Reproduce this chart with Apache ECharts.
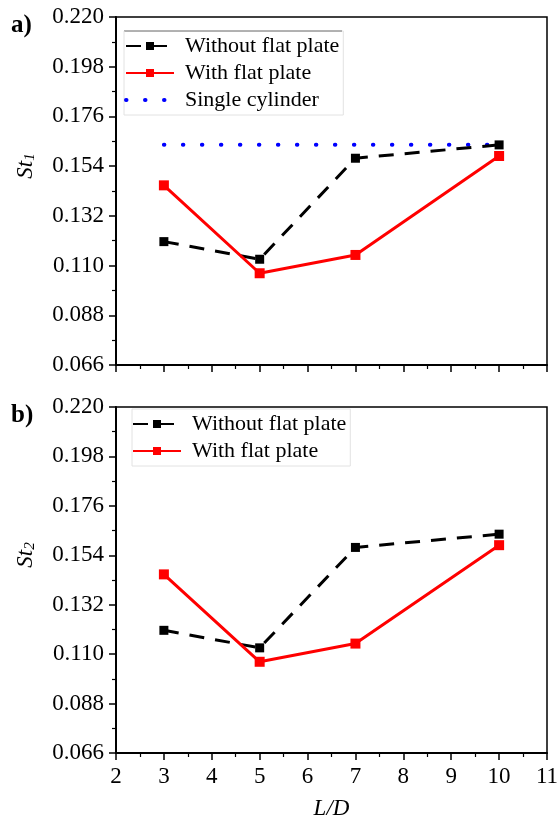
<!DOCTYPE html>
<html>
<head>
<meta charset="utf-8">
<script src="https://cdn.jsdelivr.net/npm/echarts@6/dist/echarts.min.js"></script>
<style>
  html, body { margin: 0; padding: 0; background: #fff; }
  #chart { width: 559px; height: 820px; }
</style>
</head>
<body>
<div id="chart"></div>
<script>
// L/D values
var ratios = [3, 5, 7, 10]
// St1 (panel a)
var st1Without = [0.1206, 0.1128, 0.1575, 0.1634]
var st1With = [0.1455, 0.1066, 0.1147, 0.1585]
var singleCylinder = 0.1635
var singleRange = [3, 10]
// St2 (panel b)
var st2Without = [0.1206, 0.1128, 0.1575, 0.1634]
var st2With = [0.1455, 0.1066, 0.1147, 0.1585]
// axis ticks
var yTicks = [0.066, 0.088, 0.110, 0.132, 0.154, 0.176, 0.198, 0.220]
var xRange = [2, 11]

var FONT = 'Liberation Serif'

function pairs (xs, ys) {
  return xs.map(function (x, i) { return [x, ys[i]] })
}

function makeX (idx, showLabels) {
  return {
    gridIndex: idx,
    type: 'value',
    min: xRange[0],
    max: xRange[1],
    interval: 1,
    name: showLabels ? 'L/D' : '',
    nameLocation: 'middle',
    nameGap: 44,
    nameTextStyle: { fontFamily: FONT, fontStyle: 'italic', fontSize: 23, color: '#000' },
    axisLine: { onZero: false, lineStyle: { color: '#000', width: 2 } },
    axisTick: { inside: false, length: 7, lineStyle: { color: '#000', width: 1.5 } },
    minorTick: { show: true, splitNumber: 2, length: 4, lineStyle: { color: '#000', width: 1.2 } },
    axisLabel: { show: showLabels, fontFamily: FONT, fontSize: 23, color: '#000', margin: 12 },
    splitLine: { show: false }
  }
}

function makeY (idx, sub) {
  return {
    gridIndex: idx,
    type: 'value',
    min: yTicks[0],
    max: yTicks[yTicks.length - 1],
    interval: 0.022,
    name: '{i|St}{s|' + sub + '}',
    nameLocation: 'middle',
    nameGap: 78,
    nameRotate: 90,
    nameTextStyle: {
      padding: [0, 0, 0, 50],
      rich: {
        i: { fontFamily: FONT, fontStyle: 'italic', fontSize: 23, color: '#000' },
        s: { fontFamily: FONT, fontStyle: 'italic', fontSize: 15, color: '#000', verticalAlign: 'bottom', padding: [10, 0, 0, 0] }
      }
    },
    axisLine: { lineStyle: { color: '#000', width: 2 } },
    axisTick: { inside: false, length: 7, lineStyle: { color: '#000', width: 1.5 } },
    minorTick: { show: true, splitNumber: 2, length: 4, lineStyle: { color: '#000', width: 1.2 } },
    axisLabel: {
      fontFamily: FONT, fontSize: 23, color: '#000', margin: 12,
      formatter: function (v) { return v.toFixed(3) }
    },
    splitLine: { show: false }
  }
}

var blackStyle = {
  type: 'line',
  symbol: 'rect',
  symbolSize: 9,
  itemStyle: { color: '#000' },
  lineStyle: { color: '#000', width: 3, type: [15, 11] }
}
var redStyle = {
  type: 'line',
  symbol: 'rect',
  symbolSize: 10,
  itemStyle: { color: '#ff0000' },
  lineStyle: { color: '#ff0000', width: 3 }
}

var legendBase = {
  orient: 'vertical',
  itemWidth: 48,
  itemHeight: 10,
  itemGap: 5,
  borderColor: '#e2e2e2',
  borderWidth: 1,
  borderRadius: 0,
  textStyle: { fontFamily: FONT, fontSize: 22, color: '#000', padding: [0, 0, 0, 6] }
}

var chart = echarts.init(document.getElementById('chart'))
chart.setOption({
  animation: false,
  grid: [
    { left: 116, top: 17, width: 431, height: 348, show: true, borderColor: '#000', borderWidth: 1.5, outerBoundsMode: 'none' },
    { left: 116, top: 407, width: 431, height: 346, show: true, borderColor: '#000', borderWidth: 1.5, outerBoundsMode: 'none' }
  ],
  xAxis: [makeX(0, false), makeX(1, true)],
  yAxis: [makeY(0, '1'), makeY(1, '2')],
  legend: [
    Object.assign({}, legendBase, {
      left: 124, top: 31, padding: [4, 4, 4, 0],
      data: [
        'Without flat plate',
        'With flat plate',
        { name: 'Single cylinder', itemStyle: { opacity: 0 }, lineStyle: { width: 4, type: [0.5, 18.5], cap: 'round' } }
      ]
    }),
    Object.assign({}, legendBase, {
      left: 132, top: 409, padding: [4, 4, 4, 0],
      data: ['Without flat plate', 'With flat plate']
    })
  ],
  graphic: [
    { type: 'text', left: 11, top: 13, style: { text: 'a)', fontFamily: FONT, fontWeight: 'bold', fontSize: 25, fill: '#000' } },
    { type: 'text', left: 11, top: 403, style: { text: 'b)', fontFamily: FONT, fontWeight: 'bold', fontSize: 25, fill: '#000' } },
    { type: 'line', shape: { x1: 124, y1: 31, x2: 342, y2: 31 }, style: { stroke: '#000', lineWidth: 1 } }
  ],
  series: [
    Object.assign({}, blackStyle, { name: 'Without flat plate', xAxisIndex: 0, yAxisIndex: 0, data: pairs(ratios, st1Without) }),
    Object.assign({}, redStyle, { name: 'With flat plate', xAxisIndex: 0, yAxisIndex: 0, data: pairs(ratios, st1With) }),
    {
      name: 'Single cylinder',
      type: 'line',
      xAxisIndex: 0,
      yAxisIndex: 0,
      symbol: 'none',
      itemStyle: { color: '#0000ff' },
      lineStyle: { color: '#0000ff', width: 4, type: [0.5, 18.5], cap: 'round' },
      data: [[singleRange[0], singleCylinder], [singleRange[1], singleCylinder]],
      z: 1
    },
    Object.assign({}, blackStyle, { name: 'Without flat plate', xAxisIndex: 1, yAxisIndex: 1, data: pairs(ratios, st2Without) }),
    Object.assign({}, redStyle, { name: 'With flat plate', xAxisIndex: 1, yAxisIndex: 1, data: pairs(ratios, st2With) })
  ]
})
</script>
</body>
</html>
